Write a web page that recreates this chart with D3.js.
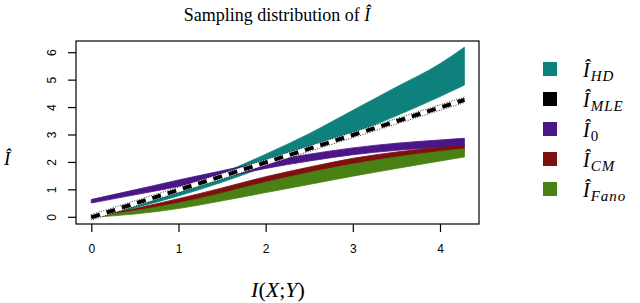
<!DOCTYPE html>
<meta charset="utf-8">
<style>
  body { margin: 0; background: #fff; }
  .tick text { font-family: "Liberation Sans", Arial, sans-serif; font-size: 12px; }
  .serif { font-family: "Liberation Serif", "DejaVu Serif", serif; }
</style>
<body>
<script src="https://d3js.org/d3.v7.min.js"></script>
<script>
  var xs = [0, 0.5, 1, 1.5, 2, 2.5, 3, 3.5, 4, 4.28];

  // lower / upper edge of each sampling band
  var hdLo   = [0, 0.35, 0.78, 1.28, 1.85, 2.45, 3.05, 3.7, 4.4, 4.82];
  var hdHi   = [0.02, 0.47, 0.98, 1.6, 2.3, 3.05, 3.9, 4.75, 5.6, 6.2];
  var mleLo  = [-0.1, 0.4, 0.9, 1.4, 1.9, 2.4, 2.9, 3.4, 3.9, 4.18];
  var mleHi  = [0.1, 0.6, 1.1, 1.6, 2.1, 2.6, 3.1, 3.6, 4.1, 4.38];
  var i0Lo   = [0.52, 0.82, 1.12, 1.45, 1.78, 2.05, 2.28, 2.44, 2.55, 2.6];
  var i0Hi   = [0.65, 1.0, 1.36, 1.7, 2.03, 2.3, 2.53, 2.7, 2.82, 2.88];
  var cmLo   = [0, 0.22, 0.48, 0.85, 1.22, 1.58, 1.9, 2.13, 2.33, 2.42];
  var cmHi   = [0.02, 0.32, 0.68, 1.07, 1.48, 1.83, 2.15, 2.38, 2.55, 2.62];
  var fanoLo = [0, 0.12, 0.32, 0.6, 0.9, 1.2, 1.5, 1.78, 2.05, 2.2];
  var fanoHi = [0.01, 0.24, 0.52, 0.88, 1.28, 1.63, 1.94, 2.2, 2.4, 2.5];

  var xTicks = [0, 1, 2, 3, 4];
  var yTicks = [0, 1, 2, 3, 4, 5, 6];

  var legendSubs = ["HD", "MLE", "0", "CM", "Fano"];
  var legendColors = ["#0f817d", "#000000", "#4a1688", "#7f1010", "#4a8114"];

  var width = 640, height = 303;
  var box = {left: 76, top: 41, right: 479, bottom: 224};

  var svg = d3.select("body").append("svg")
    .attr("width", width)
    .attr("height", height);

  var x = d3.scaleLinear().domain([0, 4]).range([91.3, 440]);
  var y = d3.scaleLinear().domain([0, 6]).range([217.3, 52.7]);

  // band generator
  function band(lo, hi) {
    var pts = xs.map(function(d, i) { return {x: d, lo: lo[i], hi: hi[i]}; });
    return d3.area()
      .x(function(d) { return x(d.x); })
      .y0(function(d) { return y(d.lo); })
      .y1(function(d) { return y(d.hi); })
      .curve(d3.curveMonotoneX)(pts);
  }

  var bands = [
    [hdLo, hdHi, legendColors[0]],
    [i0Lo, i0Hi, legendColors[2]],
    [cmLo, cmHi, legendColors[3]],
    [fanoLo, fanoHi, legendColors[4]]
  ];
  bands.forEach(function(b) {
    svg.append("path")
      .attr("d", band(b[0], b[1]))
      .style("fill", b[2])
      .style("stroke", b[2])
      .style("stroke-width", 0.8);
  });

  // MLE: black band with white dashes and dotted edges
  svg.append("path")
    .attr("d", band(mleLo, mleHi))
    .style("fill", "#fff")
    .style("stroke", "#000")
    .style("stroke-width", 0.8)
    .style("stroke-dasharray", "1,1.5");
  var mid = d3.line()
    .x(function(d, i) { return x(xs[i]); })
    .y(function(d, i) { return y((mleLo[i] + mleHi[i]) / 2); });
  svg.append("path")
    .attr("d", mid(xs))
    .style("fill", "none")
    .style("stroke", "#000")
    .style("stroke-width", 4)
    .style("stroke-dasharray", "9,7");

  // box
  svg.append("rect")
    .attr("x", box.left).attr("y", box.top)
    .attr("width", box.right - box.left)
    .attr("height", box.bottom - box.top)
    .style("fill", "none")
    .style("stroke", "#000")
    .style("stroke-width", 1.2);

  // axes
  var xAxis = svg.append("g")
    .attr("transform", "translate(0," + box.bottom + ")")
    .call(d3.axisBottom(x).tickValues(xTicks).tickFormat(d3.format("d")).tickSize(8).tickPadding(12));
  xAxis.select(".domain").remove();
  xAxis.selectAll("line").style("stroke-width", 1.2);

  var yAxis = svg.append("g")
    .attr("transform", "translate(" + box.left + ",0)")
    .call(d3.axisLeft(y).tickValues(yTicks).tickFormat(d3.format("d")).tickSize(8));
  yAxis.select(".domain").remove();
  yAxis.selectAll("line").style("stroke-width", 1.2);
  yAxis.selectAll("text")
    .attr("x", 0).attr("dy", null)
    .attr("text-anchor", "middle")
    .attr("transform", function(d) { return "translate(-24," + y(d) + ") rotate(-90)"; })
    .attr("y", 0)
    .attr("dominant-baseline", "central");
  yAxis.selectAll(".tick").attr("transform", "translate(0,0)");
  yAxis.selectAll(".tick line")
    .attr("y1", function(d) { return y(d); })
    .attr("y2", function(d) { return y(d); });

  // title
  var title = svg.append("text")
    .attr("class", "serif")
    .attr("x", 277).attr("y", 21)
    .attr("text-anchor", "middle")
    .style("font-size", "18px");
  title.append("tspan").text("Sampling distribution of ");
  title.append("tspan").style("font-style", "italic").text("Î");

  // axis titles
  svg.append("text")
    .attr("class", "serif")
    .attr("x", 278).attr("y", 297)
    .attr("text-anchor", "middle")
    .style("font-size", "22px")
    .style("font-style", "italic")
    .html("I<tspan font-style='normal'>(</tspan>X<tspan font-style='normal'>;</tspan>Y<tspan font-style='normal'>)</tspan>");

  svg.append("text")
    .attr("class", "serif")
    .attr("x", 4).attr("y", 165)
    .style("font-size", "19px")
    .style("font-style", "italic")
    .text("Î");

  // legend
  var leg = svg.selectAll(".leg")
    .data(legendSubs)
    .enter().append("g")
    .attr("transform", function(d, i) { return "translate(543," + (62 + i * 30) + ")"; });
  leg.append("rect")
    .attr("width", 14).attr("height", 14)
    .style("fill", function(d, i) { return legendColors[i]; });
  var lt = leg.append("text")
    .attr("class", "serif")
    .attr("x", 40).attr("y", 15)
    .style("font-size", "20px")
    .style("font-style", "italic");
  lt.append("tspan").text("Î");
  lt.append("tspan")
    .attr("dx", 1)
    .attr("dy", 4)
    .style("font-size", "15px")
    .style("letter-spacing", "1px")
    .style("font-style", function(d) { return d === "0" ? "normal" : "italic"; })
    .text(function(d) { return d; });
</script>
</body>
